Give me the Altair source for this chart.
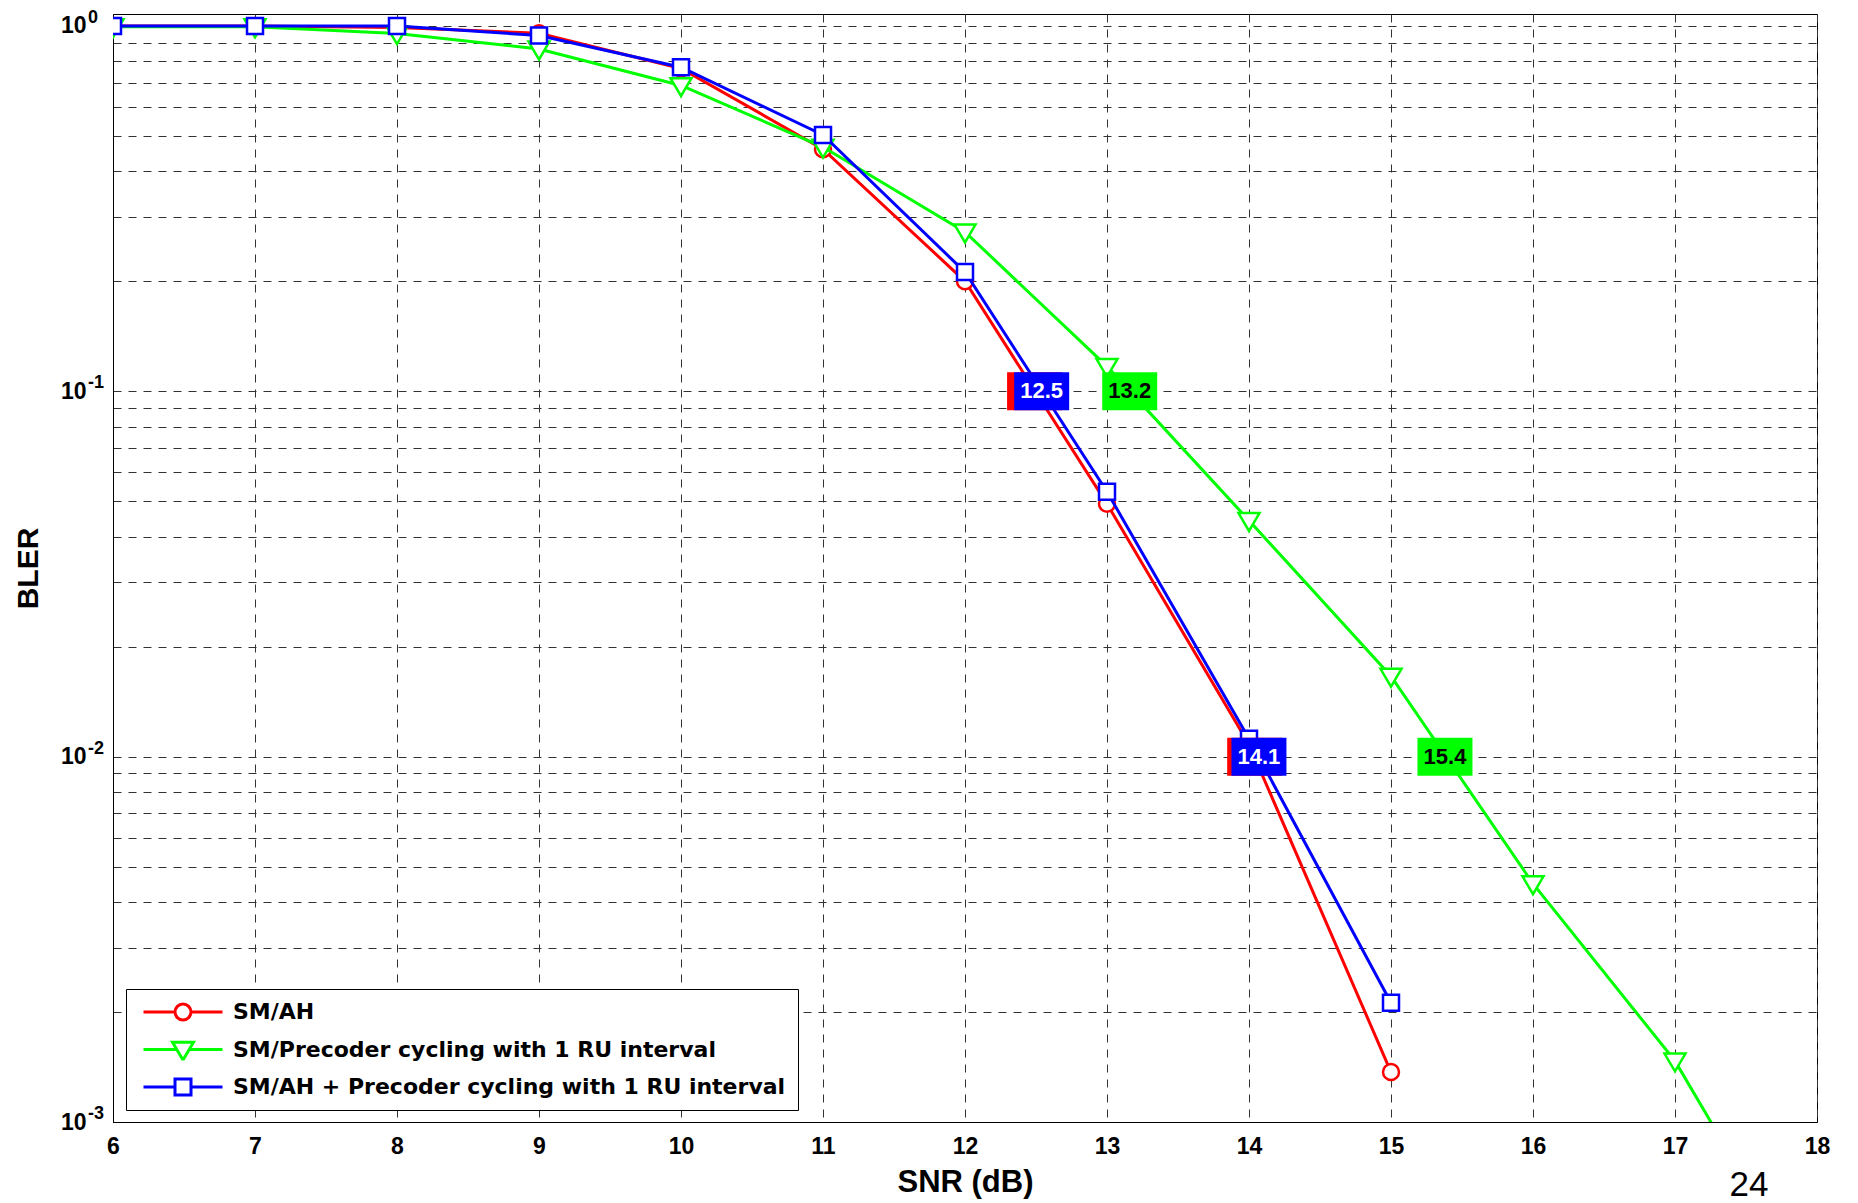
import altair as alt
import pandas as pd

# ---------------- data ----------------
snr_sm_ah = [6, 7, 8, 9, 10, 11, 12, 13, 14, 15]
bler_sm_ah = [1.0, 1.0, 0.99, 0.955, 0.765, 0.46, 0.200, 0.0492, 0.0108, 0.00137]

snr_pc = [6, 7, 8, 9, 10, 11, 12, 13, 14, 15, 16, 17, 18]
bler_pc = [0.995, 0.995, 0.953, 0.865, 0.687, 0.466, 0.273, 0.117, 0.0443, 0.0166, 0.00449, 0.00147, 0.00032]

snr_ah_pc = [6, 7, 8, 9, 10, 11, 12, 13, 14, 15]
bler_ah_pc = [1.0, 1.0, 1.0, 0.941, 0.771, 0.503, 0.212, 0.0531, 0.0112, 0.00212]

series_names = [
    "SM/AH",
    "SM/Precoder cycling with 1 RU interval",
    "SM/AH + Precoder cycling with 1 RU interval",
]
series_colors = ["#ff0000", "#00ff00", "#0000ff"]

# crossing-point annotation boxes (red boxes sit under the blue ones; only their edge shows)
ann_x = [12.49, 12.54, 13.16, 14.04, 14.07, 15.38]
ann_y = [0.1, 0.1, 0.1, 0.01, 0.01, 0.01]
ann_label = ["", "12.5", "13.2", "", "14.1", "15.4"]
ann_series = [0, 2, 1, 0, 2, 1]
ann_text_color = ["#ffffff", "#ffffff", "#000000", "#ffffff", "#ffffff", "#000000"]

x_ticks = [6, 7, 8, 9, 10, 11, 12, 13, 14, 15, 16, 17, 18]
y_ticks = [m * 10.0 ** e for e in (-3, -2, -1) for m in range(1, 10)] + [1.0]
y_decades = [1.0, 0.1, 0.01, 0.001]
y_exponents = ["0", "-1", "-2", "-3"]
page_number = ["24"]

FONT = "Liberation Sans"

# ---------------- shapes ----------------
tri_path = "M-1,-0.7L1,-0.7L0,1Z"
box_path = "M-1,-0.691L1,-0.691L1,0.691L-1,0.691Z"
r = 0.2025
leg_circle = (f"M-1,0L-{r},0M{r},0L1,0M-{r},0A{r},{r} 0 1,0 {r},0"
              f"A{r},{r} 0 1,0 -{r},0Z")
leg_tri = "M-1,0L-0.156,0M0.156,0L1,0M-0.266,-0.186L0.266,-0.186L0,0.266Z"
leg_square = (f"M-1,0L-{r},0M{r},0L1,0M-{r},-{r}L{r},-{r}L{r},{r}L-{r},{r}Z")
legend_paths = [leg_circle, leg_tri, leg_square]

# ---------------- scales / axes ----------------
xscale = alt.Scale(domain=[6, 18], nice=False, zero=False)
yscale = alt.Scale(type="log", domain=[0.001, 1.078], nice=False)

common_axis = dict(
    grid=True, gridDash=[8, 7], gridColor="#333333", gridWidth=1,
    ticks=False, tickSize=0, domainColor="#000000", domainWidth=1,
    labelFont=FONT, labelFontWeight="bold", labelColor="#000000",
    labelOverlap=False, labelFlush=False,
    titleFont=FONT, titleFontWeight="bold", titleColor="#000000",
)
xaxis = alt.Axis(values=x_ticks, title="SNR (dB)", format="d",
                 labelFontSize=23, labelPadding=13,
                 titleFontSize=31, titlePadding=9, **common_axis)
yaxis = alt.Axis(values=y_ticks, title="BLER",
                 labelExpr="abs(log(datum.value)/LN10 - round(log(datum.value)/LN10)) < 1e-6 ? '10' : ''",
                 labelFontSize=23, labelPadding=27,
                 titleFontSize=30, titlePadding=17, **common_axis)

X = alt.X("snr:Q", scale=xscale, axis=xaxis)
Y = alt.Y("bler:Q", scale=yscale, axis=yaxis)

series = [
    (snr_sm_ah, bler_sm_ah, "circle", 256),
    (snr_pc, bler_pc, tri_path, 441),
    (snr_ah_pc, bler_ah_pc, "square", 256),
]

layers = []
for i, (xs, ys, shp, sz) in enumerate(series):
    df = pd.DataFrame({"snr": xs, "bler": ys})
    base = alt.Chart(df)
    layers.append(base.mark_line(color=series_colors[i], strokeWidth=3, clip=True)
                  .encode(x=X, y=Y))
    layers.append(base.mark_point(shape=shp, size=sz, filled=False, fill="#ffffff",
                                  stroke=series_colors[i], strokeWidth=2.5,
                                  opacity=1, clip=True)
                  .encode(x=X, y=Y))

# annotation boxes
ann_df = pd.DataFrame({
    "snr": ann_x, "bler": ann_y, "label": ann_label,
    "boxfill": [series_colors[s] for s in ann_series],
    "tc": ann_text_color,
})
layers.append(alt.Chart(ann_df).mark_point(shape=box_path, size=3025, filled=True,
                                           strokeWidth=0, opacity=1)
              .encode(x=X, y=Y, fill=alt.Fill("boxfill:N", scale=None)))
layers.append(alt.Chart(ann_df).transform_filter("datum.label != ''")
              .mark_text(font=FONT, fontSize=22, fontWeight="bold",
                         align="center", baseline="middle")
              .encode(x=X, y=Y, text="label:N", fill=alt.Fill("tc:N", scale=None)))

# exponents of the y tick labels
exp_df = pd.DataFrame({"snr": [6] * len(y_decades), "bler": y_decades, "e": y_exponents})
layers.append(alt.Chart(exp_df).mark_text(font=FONT, fontSize=18, fontWeight="bold",
                                          align="left", baseline="alphabetic",
                                          dx=-25, dy=-3, color="#000000")
              .encode(x=X, y=Y, text="e:N"))

# page number of the slide
layers.append(alt.Chart(pd.DataFrame({"t": page_number})).mark_text(
    font=FONT, fontSize=35, align="center", baseline="alphabetic", color="#000000")
    .encode(x=alt.value(1636), y=alt.value(1182), text="t:N"))

# legend (driven by an empty layer so the symbols can be line+marker)
leg_cfg = dict(
    title=None, orient="none", legendX=13, legendY=975, direction="vertical",
    padding=12, strokeColor="#000000", fillColor="#ffffff",
    labelFont="DejaVu Sans", labelFontSize=22, labelFontWeight="bold",
    labelColor="#000000", labelLimit=1000, labelOffset=9,
    symbolSize=6241, symbolStrokeWidth=3, symbolOffset=4,
    symbolFillColor="#ffffff", clipHeight=22, rowPadding=15.5,
)
legend_df = pd.DataFrame({"series": series_names})
layers.append(alt.Chart(legend_df).transform_filter("false")
              .mark_point(filled=False, fill="#ffffff", size=6241, strokeWidth=3, opacity=1)
              .encode(
                  color=alt.Color("series:N", scale=alt.Scale(domain=series_names, range=series_colors),
                                  legend=alt.Legend(**leg_cfg)),
                  shape=alt.Shape("series:N", scale=alt.Scale(domain=series_names, range=legend_paths),
                                  legend=alt.Legend(**leg_cfg)),
              ))

chart = (alt.layer(*layers)
         .properties(width=1704, height=1108,
                     autosize=alt.AutoSizeParams(type="none"),
                     padding={"left": 105, "top": 6, "right": 30, "bottom": 81},
                     background="#ffffff")
         .configure_view(stroke="#000000", strokeWidth=1))

chart.save("out.html", embed_options={"renderer": "svg", "actions": False})
